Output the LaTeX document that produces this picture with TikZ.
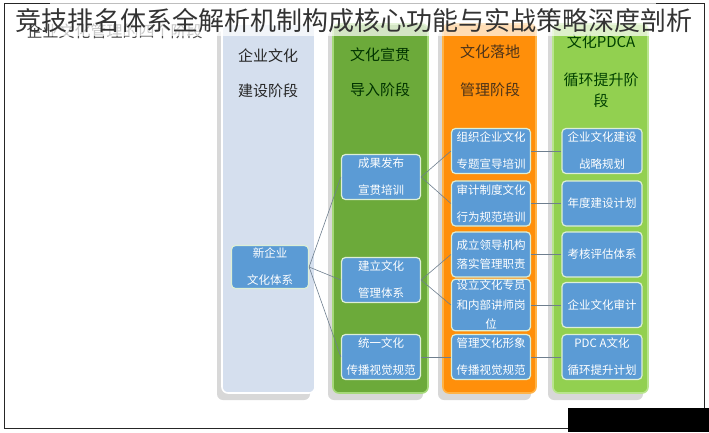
\documentclass[tikz,border=0pt]{standalone}
\usepackage{fontspec}
\newfontfamily\cjk{Noto Sans CJK SC}
\usetikzlibrary{shadows}
\definecolor{stageA}{HTML}{D5DFEE}
\definecolor{stageB}{HTML}{6CAA3A}
\definecolor{stageC}{HTML}{FF8F0A}
\definecolor{stageD}{HTML}{92D050}
\definecolor{lineB}{HTML}{A6D97A}
\definecolor{lineC}{HTML}{FFB347}
\definecolor{lineD}{HTML}{B9E58E}
\definecolor{boxFill}{HTML}{5B9BD5}
\definecolor{boxLine}{HTML}{DDEFD6}
\definecolor{linkGray}{HTML}{6F7F8F}
\begin{document}
\begin{tikzpicture}[x=1pt,y=-1pt,
  stage/.style={line width=1.6pt,rounded corners=6pt,drop shadow={shadow xshift=-5pt,shadow yshift=-7pt,opacity=0.3}},
  item/.style={shape=rectangle,rounded corners=4pt,draw=boxLine,line width=1.2pt,fill=boxFill,text=white,minimum width=79pt,minimum height=45pt,align=center,inner sep=1pt,font=\cjk\fontsize{11.5}{27}\selectfont},
  itemT/.style={item,font=\cjk\fontsize{11.5}{19.5}\selectfont},
  head/.style={align=center,font=\cjk\fontsize{15}{35}\selectfont},
  link/.style={draw=linkGray,line width=0.6pt}]
\def\xa{270};
\def\xb{381};
\def\xc{491};
\def\xd{602};

\useasboundingbox (0,0) rectangle (709,432);
\fill[white] (0,0) rectangle (709,432);
\draw[line width=0.8pt,black!85] (4,3) rectangle (704,428);

\node[anchor=west,font=\cjk\fontsize{16}{18}\selectfont,text=black!70] (sub) at (23,31) {企业文化管理的四个阶段};

% four stages
\draw[stage,draw=white,fill=stageA] (222,24) rectangle (315,393);
\draw[stage,draw=lineB,fill=stageB] (333,24) rectangle (428,393);
\draw[stage,draw=lineC,fill=stageC] (443,24) rectangle (536,393);
\draw[stage,draw=lineD,fill=stageD] (553,24) rectangle (648,393);

\node[head,text=black!85] (hA) at (\xa-2,73) {企业文化\\建设阶段};
\node[head,text=green!20!black] (hB) at (\xb-1,72) {文化宣贯\\导入阶段};
\node[head,text=brown!40!black,font=\cjk\fontsize{15}{38}\selectfont] (hC) at (\xc-1,71) {文化落地\\管理阶段};
\node[head,text=green!25!black,font=\cjk\fontsize{15}{21}\selectfont] (hD) at (\xd-1,71) {文化PDCA\\[17pt]循环提升阶\\段};

% items
\node[item,minimum width=77pt,minimum height=43pt] (new) at (\xa,267) {新企业\\文化体系};

\node[item] (pub) at (\xb,177) {成果发布\\宣贯培训};
\node[item] (sys) at (\xb,280) {建立文化\\管理体系};
\node[item] (vis) at (\xb,357) {统一文化\\传播视觉规范};

\node[item] (org) at (\xc,151) {组织企业文化\\专题宣导培训};
\node[item] (aud) at (\xc,203.5) {审计制度文化\\行为规范培训};
\node[itemT] (lead) at (\xc,254.5) {成立领导机构\\落实管理职责};
\node[itemT] (spec) at (\xc,305) {设立文化专员\\和内部讲师岗\\位};
\node[item] (img) at (\xc,357) {管理文化形象\\传播视觉规范};

\node[item,minimum width=80pt] (plan) at (\xd,151) {企业文化建设\\战略规划};
\node[item,minimum width=80pt] (year) at (\xd,203.5) {年度建设计划};
\node[item,minimum width=80pt] (eval) at (\xd,254.5) {考核评估体系};
\node[item,minimum width=80pt] (caud) at (\xd,305) {企业文化审计};
\node[item,minimum width=80pt] (pdca) at (\xd,357) {PDC A文化\\循环提升计划};

% links
\draw[link] (new.east) -- (pub.west);
\draw[link] (new.east) -- (sys.west);
\draw[link] (new.east) -- (vis.west);
\draw[link] (pub.east) -- (org.west);
\draw[link] (pub.east) -- (aud.west);
\draw[link] (sys.east) -- (lead.west);
\draw[link] (sys.east) -- (spec.west);
\draw[link] (vis.east) -- (img.west);
\draw[link] (org.east) -- (plan.west);
\draw[link] (aud.east) -- (year.west);
\draw[link] (lead.east) -- (eval.west);
\draw[link] (spec.east) -- (caud.west);
\draw[link] (img.east) -- (pdca.west);

% title band
\fill[white,opacity=0.7] (50,0) rectangle (656,36);
\node[font=\cjk\fontsize{26}{30}\selectfont,text=black!80] (title) at (354,21) {竞技排名体系全解析机制构成核心功能与实战策略深度剖析};

\fill[black] (568,408) rectangle (709,432);
\end{tikzpicture}
\end{document}
